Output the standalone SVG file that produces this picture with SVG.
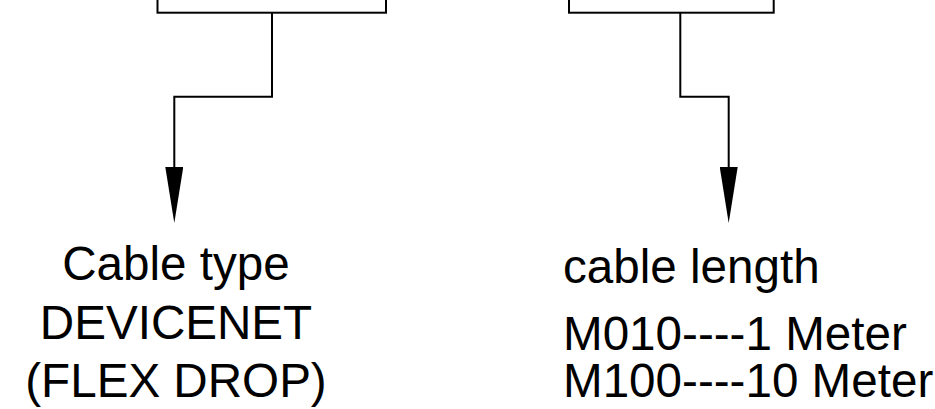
<svg xmlns="http://www.w3.org/2000/svg" width="935" height="409" viewBox="0 0 935 409">
<style>
.box{fill:#fff;stroke:#000;stroke-width:2}
.wire{fill:none;stroke:#000;stroke-width:2}
.lbl{font-family:"Liberation Sans",Arial,sans-serif;font-size:47.6px;fill:#000}
</style>
<defs>
<marker id="arr" markerUnits="userSpaceOnUse" viewBox="0 0 56 18" refX="33" refY="9" markerWidth="56" markerHeight="18" orient="auto">
<path d="M0,0 L56,9 L0,18 Z" fill="#000"/>
</marker>
</defs>
<rect width="935" height="409" fill="#fff"/>
<g id="node-left-box"><rect class="box" x="157.5" y="-20" width="228.5" height="32.7"/></g>
<g id="node-right-box"><rect class="box" x="569" y="-20" width="204.7" height="32.7"/></g>
<g id="connectors">
<path class="wire" d="M272,12.7 V96.7 H174.3 V200" marker-end="url(#arr)"/>
<path class="wire" d="M680.3,12.7 V96.7 H728.7 V200" marker-end="url(#arr)"/>
</g>
<g id="node-cable-type">
<text class="lbl" text-anchor="middle" x="176" y="280">Cable type</text>
<text class="lbl" text-anchor="middle" x="176" y="339">DEVICENET</text>
<text class="lbl" text-anchor="middle" x="176" y="397">(FLEX DROP)</text>
</g>
<g id="node-cable-length">
<text class="lbl" x="563" y="283">cable length</text>
<text class="lbl" x="563" y="350">M010----1 Meter</text>
<text class="lbl" x="563" y="397">M100----10 Meter</text>
</g>
</svg>
